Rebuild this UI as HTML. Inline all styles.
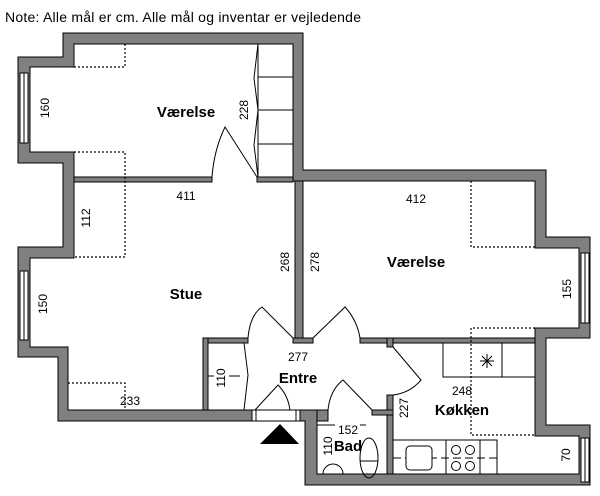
<!DOCTYPE html>
<html><head><meta charset="utf-8"><style>
html,body{margin:0;padding:0;background:#fff;}
svg{display:block;font-family:"Liberation Sans",sans-serif;}
.w{fill:#808080;stroke:#000;stroke-width:1;}
.t{fill:#fff;stroke:#000;stroke-width:1;}
.d{fill:none;stroke:#000;stroke-width:1.2;stroke-dasharray:2 2;}
.l{fill:none;stroke:#000;stroke-width:1;}
.n{font-size:12px;fill:#000;}
.b{font-size:15px;font-weight:bold;fill:#000;}
</style></head><body>
<svg width="600" height="496" viewBox="0 0 600 496">
<text x="5" y="22" style="font-size:14px" textLength="356">Note: Alle mål er cm. Alle mål og inventar er vejledende</text>

<path class="w" d="M63,33 H303 V170 H546 V237 H590 V338 H546 V425 H590 V485 H305 V421 H300 V410 H312 V410 H317 V474 H579 V436 H535 V328 H579 V248 H535 V181 H293 V44 H74 V67 H30 V152 H74 V258 H30 V347 H68 V410 H252 V421 H58 V357 H18 V247 H63 V163 H18 V57 H63 Z"/>

<rect class="t" x="20" y="73" width="8" height="70"/><line class="l" x1="24" y1="73" x2="24" y2="143"/>
<rect class="t" x="20" y="271" width="8" height="69"/><line class="l" x1="24" y1="271" x2="24" y2="340"/>
<rect class="t" x="581" y="253" width="8" height="70"/><line class="l" x1="585" y1="253" x2="585" y2="323"/>
<rect class="t" x="581" y="438" width="8" height="44"/><line class="l" x1="585" y1="438" x2="585" y2="482"/>

<rect class="w" x="74" y="177" width="138" height="5"/>
<rect class="w" x="257" y="177" width="36" height="5"/>
<rect class="w" x="295" y="181" width="8" height="157"/>
<rect class="w" x="203" y="338" width="45" height="5"/>
<rect class="w" x="203" y="338" width="5" height="72"/>
<rect class="w" x="293" y="338" width="20" height="5"/>
<rect class="w" x="360" y="338" width="175" height="5"/>
<rect class="w" x="387" y="338" width="6" height="9"/>
<rect class="w" x="387" y="395" width="6" height="79"/>
<rect class="w" x="317" y="410" width="11" height="11"/>
<rect class="w" x="372" y="410" width="21" height="5"/>
<rect class="t" x="252" y="410" width="48" height="11"/>
<line class="l" x1="256" y1="410" x2="256" y2="421"/><line class="l" x1="296" y1="410" x2="296" y2="421"/>
<polygon points="280,424 299,444 260,444" fill="#000"/>

<path class="l" d="M212,177 Q214,150 225,127 L257,177"/>
<path class="l" d="M248,338 Q250,315 262,307 L293,338"/>
<path class="l" d="M313,338 L345,307 Q357,320 360,338"/>
<path class="l" d="M393,347 L421,380 Q410,393 393,395"/>
<path class="l" d="M255,410 L278,385 Q288,395 290,410"/>
<path class="l" d="M328,410 Q330,390 343,380 L372,410"/>
<path class="l" d="M244,343 L248,375 L244,410"/>
<line class="l" x1="208" y1="376" x2="214" y2="376"/><line class="l" x1="229" y1="376" x2="240" y2="376"/>

<rect class="l" x="258" y="44" width="35" height="133"/>
<line class="l" x1="258" y1="77" x2="293" y2="77"/><line class="l" x1="258" y1="110" x2="293" y2="110"/><line class="l" x1="258" y1="144" x2="293" y2="144"/>
<path class="l" d="M258,44 L254,78 L258,110 L254,145 L258,177"/>

<path class="d" d="M125,44 V67 H74 M74,152 H125 V257 H74 M68,383 H125 V410"/>
<path class="d" d="M471,181 V247 H535 M535,328 H471 V435 H535"/>

<rect class="l" x="443" y="343" width="92" height="34"/><line class="l" x1="502" y1="343" x2="502" y2="377"/>
<path class="l" d="M480,361 H494 M487,354 V368 M482,356 L492,366 M492,356 L482,366"/>
<rect class="l" x="393" y="440" width="104" height="34"/>
<line class="l" x1="446" y1="440" x2="446" y2="474"/><line class="l" x1="480" y1="440" x2="480" y2="474"/>
<line x1="393" y1="458" x2="497" y2="458" stroke="#000" stroke-width="1" stroke-dasharray="8 4"/>
<rect class="t" x="406" y="446" width="26" height="24" rx="4"/>
<circle class="l" cx="456" cy="450" r="4.5"/><circle class="l" cx="470" cy="450" r="4.5"/>
<circle class="l" cx="456" cy="466" r="4.5"/><circle class="l" cx="470" cy="466" r="4.5"/>
<path class="l" d="M317,425 H335 M360,425 H366"/>
<ellipse class="l" cx="369" cy="458" rx="9" ry="20"/><line class="l" x1="360" y1="461" x2="378" y2="461"/>
<path class="l" d="M323,474 A10,10 0 0 1 343,474"/>

<text class="b" x="186" y="117" text-anchor="middle">Værelse</text>
<text class="b" x="186" y="299" text-anchor="middle">Stue</text>
<text class="b" x="416" y="267" text-anchor="middle">Værelse</text>
<text class="b" x="298" y="383" text-anchor="middle">Entre</text>
<text class="b" x="462" y="415" text-anchor="middle">Køkken</text>
<text class="b" x="348" y="451" text-anchor="middle">Bad</text>
<text class="n" x="186" y="200" text-anchor="middle">411</text>
<text class="n" x="130" y="405" text-anchor="middle">233</text>
<text class="n" x="416" y="203" text-anchor="middle">412</text>
<text class="n" x="298" y="361" text-anchor="middle">277</text>
<text class="n" x="462" y="395" text-anchor="middle">248</text>
<text class="n" x="348" y="434" text-anchor="middle">152</text>
<g class="n" text-anchor="middle">
<text transform="translate(49,108) rotate(-90)">160</text>
<text transform="translate(248,110) rotate(-90)">228</text>
<text transform="translate(90,218) rotate(-90)">112</text>
<text transform="translate(47,304) rotate(-90)">150</text>
<text transform="translate(289,262) rotate(-90)">268</text>
<text transform="translate(319,262) rotate(-90)">278</text>
<text transform="translate(571,289) rotate(-90)">155</text>
<text transform="translate(225,378) rotate(-90)">110</text>
<text transform="translate(408,408) rotate(-90)">227</text>
<text transform="translate(332,446) rotate(-90)">110</text>
<text transform="translate(570,455) rotate(-90)">70</text>
</g>
</svg>
</body></html>
